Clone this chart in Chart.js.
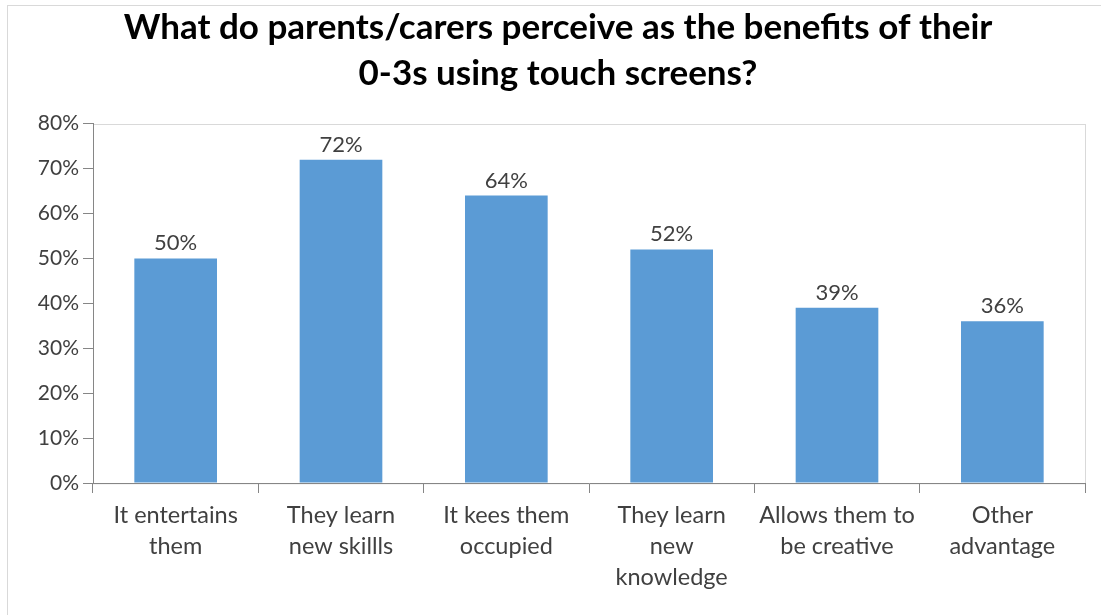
<!DOCTYPE html>
<html>
<head>
<meta charset="utf-8">
<script src="https://cdn.jsdelivr.net/npm/chart.js@4"></script>
<style>
  body { margin: 0; background: #fff; }
  canvas { display: block; }
</style>
</head>
<body>
<canvas id="grafik" width="1101" height="615"></canvas>
<script>
const kategori = [
  ["It entertains", "them"],
  ["They learn", "new skillls"],
  ["It kees them", "occupied"],
  ["They learn", "new", "knowledge"],
  ["Allows them to", "be creative"],
  ["Other", "advantage"]
];
const persen = [50, 72, 64, 52, 39, 36];
const judul = [
  "What do parents/carers perceive as the benefits of their",
  "0-3s using touch screens?"
];
const fontUtama = "Lato, 'Open Sans', sans-serif";

// kotak luar + bingkai area plot
const bingkai = {
  id: 'bingkai',
  beforeDraw(chart) {
    const ctx = chart.ctx;
    const a = chart.chartArea;
    ctx.save();
    ctx.strokeStyle = '#d9d9d9';
    ctx.lineWidth = 1;
    ctx.strokeRect(7.5, 5.5, 1200, 700);
    ctx.strokeRect(Math.round(a.left) + 0.5, Math.round(a.top) + 0.5, a.right - a.left, a.bottom - a.top);
    ctx.restore();
  }
};

// label nilai di atas batang
const labelNilai = {
  id: 'labelNilai',
  afterDatasetsDraw(chart) {
    const ctx = chart.ctx;
    const meta = chart.getDatasetMeta(0);
    ctx.save();
    ctx.font = "22px " + fontUtama;
    ctx.fillStyle = '#404040';
    ctx.textAlign = 'center';
    ctx.textBaseline = 'alphabetic';
    meta.data.forEach((bar, i) => {
      ctx.fillText(persen[i] + '%', bar.x, bar.y - 8);
    });
    ctx.restore();
  }
};

new Chart(document.getElementById('grafik').getContext('2d'), {
  type: 'bar',
  data: {
    labels: kategori,
    datasets: [{
      label: 'Benefits',
      data: persen,
      backgroundColor: '#5b9bd5',
      borderWidth: 0,
      barPercentage: 0.5,
      categoryPercentage: 1.0
    }]
  },
  options: {
    responsive: false,
    animation: false,
    devicePixelRatio: 1,
    layout: { padding: { left: 31, right: 16, top: 0, bottom: 0 } },
    plugins: {
      legend: { display: false },
      tooltip: { enabled: false },
      title: {
        display: true,
        text: judul,
        color: '#000',
        font: { family: fontUtama, size: 35, weight: 'bold', lineHeight: 1.31 },
        padding: { top: 5, bottom: 27 }
      }
    },
    scales: {
      x: {
        grid: {
          drawOnChartArea: false,
          drawTicks: true,
          tickLength: 10,
          color: '#868686',
          offset: true
        },
        border: { color: '#868686', width: 1 },
        ticks: {
          color: '#404040',
          padding: 7,
          maxRotation: 0,
          autoSkip: false,
          font: { family: fontUtama, size: 23.5, lineHeight: 1.32 }
        },
        afterFit(scale) { scale.height = 132; }
      },
      y: {
        min: 0,
        max: 80,
        grid: {
          drawOnChartArea: false,
          drawTicks: true,
          tickLength: 10,
          color: '#868686'
        },
        border: { color: '#868686', width: 1 },
        ticks: {
          stepSize: 10,
          color: '#404040',
          padding: 4,
          font: { family: fontUtama, size: 21 },
          callback: v => v + '%'
        },
        afterFit(scale) { scale.width = 62; }
      }
    }
  },
  plugins: [bingkai, labelNilai]
});
</script>
</body>
</html>
